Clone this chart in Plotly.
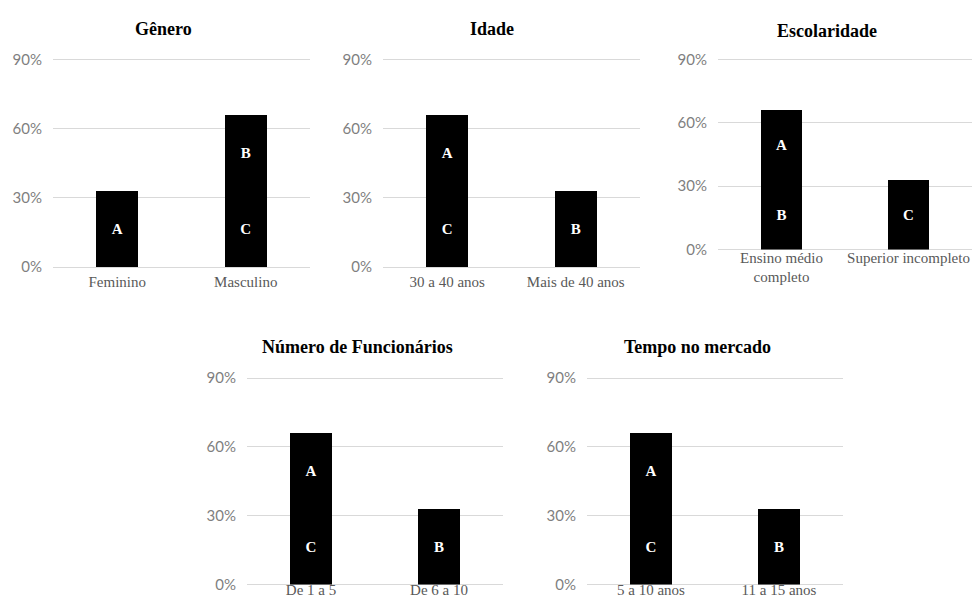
import plotly.graph_objects as go

W, H = 973, 612

# Perfil dos respondentes (percentual) e respondentes em cada categoria
genero_cat = ["Feminino", "Masculino"]
genero_pct = [33.0, 66.0]
genero_resp = [["A"], ["C", "B"]]

idade_cat = ["30 a 40 anos", "Mais de 40 anos"]
idade_pct = [66.0, 33.0]
idade_resp = [["C", "A"], ["B"]]

escolaridade_cat = ["Ensino médio<br>completo", "Superior incompleto"]
escolaridade_pct = [66.0, 33.0]
escolaridade_resp = [["B", "A"], ["C"]]

funcionarios_cat = ["De 1 a 5", "De 6 a 10"]
funcionarios_pct = [66.0, 33.0]
funcionarios_resp = [["C", "A"], ["B"]]

mercado_cat = ["5 a 10 anos", "11 a 15 anos"]
mercado_pct = [66.0, 33.0]
mercado_resp = [["C", "A"], ["B"]]

y_ticks = [0, 30, 60, 90]
y_ticklabels = ["0%", "30%", "60%", "90%"]
Y_MAX = 91.0

# (titulo, categorias, percentuais, respondentes, caixa em px: x0, x1, y de 90%, y de 0%,
#  posicao do titulo, afastamento dos rotulos do eixo x)
paineis = [
    ("Gênero", genero_cat, genero_pct, genero_resp, (53, 310, 53, 266), (163, 22), 4),
    ("Idade", idade_cat, idade_pct, idade_resp, (383, 640, 53, 266), (492, 22), 4),
    ("Escolaridade", escolaridade_cat, escolaridade_pct, escolaridade_resp, (718, 972, 53, 248), (827, 24), -3),
    ("Número de Funcionários", funcionarios_cat, funcionarios_pct, funcionarios_resp, (247, 503, 380, 592), (357, 348), -6),
    ("Tempo no mercado", mercado_cat, mercado_pct, mercado_resp, (587, 843, 380, 592), (697, 348), -6),
]

SERIF = "Liberation Serif"
SANS = "Lato"
fig = go.Figure()
layout = dict(
    width=W, height=H,
    margin=dict(l=0, r=0, t=0, b=0),
    paper_bgcolor="white", plot_bgcolor="white",
    barmode="stack", showlegend=False,
    font=dict(family=SERIF, color="#595959", size=15),
    annotations=[],
)

for i, (titulo, cats, pcts, resp, box, tpos, xstand) in enumerate(paineis, start=1):
    x0, x1, y90, y0 = box
    ytop = y90 - (Y_MAX - 90) * (y0 - y90) / 90.0
    xa = "x" if i == 1 else f"x{i}"
    ya = "y" if i == 1 else f"y{i}"
    nseg = max(len(r) for r in resp)
    for s in range(nseg):
        vals, txt = [], []
        for p, r in zip(pcts, resp):
            if s < len(r):
                vals.append(p / len(r))
                txt.append(r[s])
            else:
                vals.append(0)
                txt.append("")
        fig.add_trace(go.Bar(
            x=cats, y=vals, text=txt, xaxis=xa, yaxis=ya,
            marker=dict(color="black", line=dict(width=0)),
            width=0.33,
            textposition="inside", insidetextanchor="middle", textangle=0,
            textfont=dict(family=SERIF, color="white", size=15),
            texttemplate="<b>%{text}</b>",
            hoverinfo="skip",
        ))
    layout[f"xaxis{'' if i == 1 else i}"] = dict(
        domain=[x0 / W, min(x1 / W, 1.0)], anchor=ya,
        showgrid=False, zeroline=False, showline=False,
        tickangle=0,
        tickfont=dict(family=SERIF, color="#595959", size=15),
        ticklabelstandoff=xstand, fixedrange=True,
    )
    layout[f"yaxis{'' if i == 1 else i}"] = dict(
        domain=[1 - y0 / H, 1 - ytop / H], anchor=xa,
        range=[0, Y_MAX], tickvals=y_ticks, ticktext=y_ticklabels,
        showgrid=True, gridcolor="#d9d9d9", gridwidth=1,
        zeroline=True, zerolinecolor="#d9d9d9", zerolinewidth=1, showline=False,
        tickfont=dict(family=SANS, color="#7f7f7f", size=15),
        ticklabelstandoff=10, fixedrange=True,
    )
    layout["annotations"].append(dict(
        text="<b>" + titulo + "</b>", x=tpos[0] / W, y=1 - tpos[1] / H, xref="paper", yref="paper",
        xanchor="center", yanchor="middle", showarrow=False,
        font=dict(family=SERIF, color="black", size=18),
    ))

fig.update_layout(**layout)
fig.write_html("out.html")
